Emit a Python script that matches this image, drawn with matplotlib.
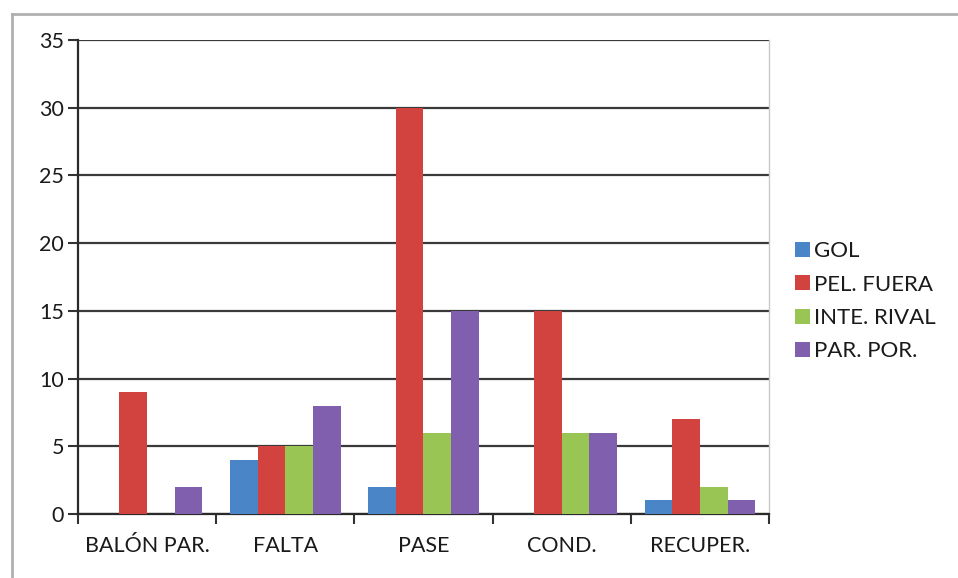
import numpy as np
import matplotlib.pyplot as plt
from matplotlib.lines import Line2D

plt.rcParams['font.family'] = ['Lato', 'DejaVu Sans']

categorias = ['BALÓN PAR.', 'FALTA', 'PASE', 'COND.', 'RECUPER.']
series = ['GOL', 'PEL. FUERA', 'INTE. RIVAL', 'PAR. POR.']
gol = [0, 4, 2, 0, 1]
pel_fuera = [9, 5, 30, 15, 7]
inte_rival = [0, 5, 6, 6, 2]
par_por = [2, 8, 15, 6, 1]
colores = ['#4A85C8', '#D2423F', '#98C554', '#7F5FAE']

fig = plt.figure(figsize=(9.58, 5.78), dpi=100)
ax = fig.add_axes([0.0814, 0.1107, 0.7213, 0.8201])

x = np.arange(len(categorias))
w = 0.2
for i, (vals, name) in enumerate(zip([gol, pel_fuera, inte_rival, par_por], series)):
    ax.bar(x + (i - 1.5) * w, vals, w, color=colores[i], label=name, zorder=3)

ax.set_xlim(-0.5, len(categorias) - 0.5)
ax.set_ylim(0, 35)
ax.set_yticks(range(0, 36, 5))
ax.yaxis.grid(True, color='#3a3a3a', linewidth=1.6, zorder=1)
ax.set_axisbelow(True)

ax.set_xticks(x)
ax.set_xticklabels(categorias, fontsize=15.5, color='#1a1a1a')
ax.set_xticks(np.arange(-0.5, len(categorias), 1), minor=True)
ax.tick_params(axis='x', which='major', length=0, pad=16)
ax.tick_params(axis='x', which='minor', length=7, width=1.5, color='#333333')
ax.tick_params(axis='y', length=7, width=1.5, color='#333333', labelsize=15.5,
               labelcolor='#1a1a1a', pad=3)

for s in ['left', 'bottom']:
    ax.spines[s].set_color('#2a2a2a')
    ax.spines[s].set_linewidth(1.6)
ax.spines['top'].set_visible(False)
ax.spines['right'].set_color('#c8c8c8')
ax.spines['right'].set_linewidth(1.0)

leg = fig.legend(loc='upper left', bbox_to_anchor=(0.821, 0.598), frameon=False,
                 fontsize=16, handlelength=0.65, handleheight=0.65,
                 handletextpad=0.2, labelspacing=0.6, borderaxespad=0)
for t in leg.get_texts():
    t.set_color('#1a1a1a')

fig.add_artist(Line2D([12 / 958, 12 / 958], [0, 1 - 14 / 578],
                      color='#b0b0b0', linewidth=2, transform=fig.transFigure))
fig.add_artist(Line2D([12 / 958, 1], [1 - 14 / 578, 1 - 14 / 578],
                      color='#b0b0b0', linewidth=2, transform=fig.transFigure))

fig.savefig('out.png', dpi=100)
